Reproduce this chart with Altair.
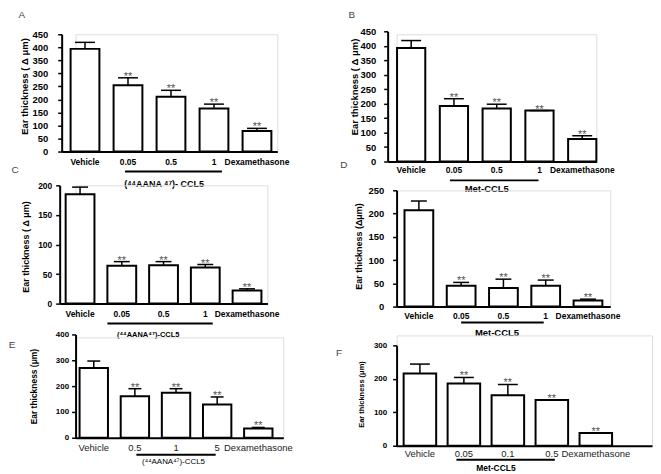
import altair as alt
import pandas as pd

FONT = "Liberation Sans"

# ---------------- data ----------------
cats_A = ["Vehicle", "0.05", "0.5", "1", "Dexamethasone"]
vals_A = [394, 254, 210, 165, 79]
err_A = [419, 283, 235, 182, 89]

cats_B = ["Vehicle", "0.05", "0.5", "1", "Dexamethasone"]
vals_B = [392, 192, 183, 176, 78]
err_B = [418, 217, 198, 176, 89]

cats_C = ["Vehicle", "0.05", "0.5", "1", "Dexamethasone"]
vals_C = [185, 64, 65, 61, 22]
err_C = [197, 71, 71, 66, 25]

cats_D = ["Vehicle", "0.05", "0.5", "1", "Dexamethasone"]
vals_D = [207, 45, 40, 45, 13]
err_D = [227, 52, 59, 57, 16]

cats_E = ["Vehicle", "0.5", "1", "5", "Dexamethasone"]
vals_E = [270, 161, 174, 129, 36]
err_E = [297, 190, 190, 158, 40]

cats_F = ["Vehicle", "0.05", "0.1", "0.5", "Dexamethasone"]
vals_F = [216, 186, 151, 137, 38]
err_F = [244, 204, 183, 137, 38]

stars = ["", "**", "**", "**", "**"]

ytitles = {
    "A": "Ear thickness ( Δ μm)",
    "B": "Ear thickness (  Δ μm)",
    "C": "Ear thickness ( Δ μm)",
    "D": "Ear thickness (Δμm)",
    "E": "Ear thickness (μm)",
    "F": "Ear thickness (μm)",
}
group_labels = {
    "A": "(⁴⁴AANA ⁴⁷)- CCL5",
    "B": "Met-CCL5",
    "C": "(⁴⁴AANA⁴⁷)-CCL5",
    "D": "Met-CCL5",
    "E": "(⁴⁴AANA⁴⁷)-CCL5",
    "F": "Met-CCL5",
}


def panel(letter, cats, vals, errs, ymax, ystep, g1, g2, gm, cfg):
    df = pd.DataFrame({"cat": cats, "val": vals, "err": errs, "star": stars})
    info = pd.DataFrame({"g1": [g1], "g2": [g2], "gm": [gm],
                         "gl": [group_labels[letter]], "t": [letter]})

    xscale = alt.Scale(domain=cats, range=cfg["xrange"], paddingInner=cfg["pi"],
                       paddingOuter=cfg["po"], align=cfg["al"])
    yscale = alt.Scale(domain=[0, ymax], range=cfg["yrange"], nice=False, zero=True)

    xaxis = alt.Axis(title=None, labelAngle=0, ticks=False, tickSize=0,
                     labelPadding=cfg["xlp"], labelFont=FONT,
                     labelFontSize=cfg["xls"], labelFontWeight=cfg["xlw"],
                     labelColor=cfg.get("xlc", "black"), domainColor="black",
                     domainWidth=2, labelOverlap=False, grid=False)
    yaxis = alt.Axis(title=ytitles[letter], values=list(range(0, ymax + 1, ystep)),
                     offset=cfg["yoff"], tickSize=4, tickWidth=1.5, tickColor="black",
                     domainColor="black", domainWidth=2, grid=False,
                     labelOverlap=False, labelFlush=False,
                     labelPadding=cfg["ylp"], labelFont=FONT, labelFontSize=cfg["yls"],
                     labelFontWeight="bold", labelColor="black",
                     titleFont=FONT, titleFontSize=cfg["yts"], titleFontWeight="bold",
                     titleColor="black", titleX=cfg["tx"], titleY=cfg["ty"],
                     titleBaseline="middle")

    X = lambda f: alt.X(f, scale=xscale, axis=xaxis, title=None)
    Y = lambda f: alt.Y(f, scale=yscale, axis=yaxis)

    base = alt.Chart(df)
    bars = base.mark_bar(fill="white", stroke="black", strokeWidth=2).encode(
        x=X("cat:N"), y=Y("val:Q"), y2=alt.datum(0))
    rules = base.mark_rule(color="black", strokeWidth=1.5).encode(
        x=X("cat:N"), y=Y("val:Q"), y2="err:Q")
    caps = base.mark_tick(color="black", thickness=1.5, size=cfg["cap"], opacity=1).encode(
        x=X("cat:N"), y=Y("err:Q"))
    txt = base.mark_text(font=FONT, fontSize=11, fill="#555", baseline="alphabetic",
                         dy=2).encode(
        x=X("cat:N"), y=Y("err:Q"), text="star:N")

    ib = alt.Chart(info)
    under = ib.mark_rule(color="black", strokeWidth=2, xOffset=cfg["uo1"],
                         x2Offset=cfg["uo2"]).encode(
        x=X("g1:N"), x2="g2:N", y=alt.value(cfg["uy"]))
    glab = ib.mark_text(font=FONT, fontSize=cfg["gls"], fontWeight=cfg["glw"],
                        fill="black", baseline="middle", dx=cfg["gdx"]).encode(
        x=X("gm:N"), y=alt.value(cfg["ly"]), text="gl:N")
    let = ib.mark_text(font=FONT, fontSize=10, fill="#444", align="center",
                       baseline="middle").encode(
        x=alt.value(cfg["lx"]), y=alt.value(cfg["lyy"]), text="t:N")

    return alt.layer(bars, rules, caps, txt, under, glab, let).properties(
        width=cfg["w"], height=cfg["h"])


cfgA = dict(w=203, h=118, xrange=[-14, 203], yrange=[118, 0], pi=0.33, po=0.173, al=0.6,
            yoff=14, ylp=10, yls=9.5, yts=9.5, tx=-37, ty=52, xlp=6, xls=8.5, xlw="bold",
            cap=20, uo1=-3, uo2=8, uy=138, ly=151, gdx=-7, gls=9, glw="bold",
            lx=-54, lyy=-19)
cfgB = dict(w=201, h=128, xrange=[-9, 201], yrange=[128, -3], pi=0.34, po=0.11, al=1.0,
            yoff=9, ylp=8, yls=9.5, yts=9.5, tx=-33, ty=52.5, xlp=4, xls=8.5, xlw="bold",
            cap=20, uo1=-4, uo2=-1, uy=147, ly=156, gdx=-10, gls=9.5, glw="bold",
            lx=-45, lyy=-19)
cfgC = dict(w=193, h=119, xrange=[-16, 193], yrange=[119, 0], pi=0.31, po=0.143, al=0.5,
            yoff=16, ylp=4, yls=8.5, yts=9, tx=-34, ty=61.5, xlp=6, xls=8.5, xlw="bold",
            cap=16, uo1=-14.5, uo2=7.5, uy=139, ly=151, gdx=-15.5, gls=7.5, glw="bold",
            lx=-61, lyy=-15)
cfgD = dict(w=215, h=117, xrange=[0, 215], yrange=[117, 0], pi=0.32, po=0.187, al=0.5,
            yoff=0, ylp=9, yls=9.5, yts=9, tx=-38, ty=56, xlp=5, xls=8.5, xlw="bold",
            cap=16, uo1=0, uo2=-2, uy=133, ly=144, gdx=-6.5, gls=9.5, glw="bold",
            lx=-53, lyy=-25)
cfgE = dict(w=209, h=101, xrange=[0, 209], yrange=[101, -3], pi=0.31, po=0.18, al=0.27,
            yoff=0, ylp=3, yls=8, yts=8.5, tx=-42, ty=49, xlp=5, xls=9.5, xlw="normal",
            xlc="#222", cap=13, uo1=1.5, uo2=-1.5, uy=118, ly=125, gdx=-2.5, gls=8,
            glw="normal", lx=-64, lyy=8)
cfgF = dict(w=257, h=111, xrange=[0, 257], yrange=[111, 10], pi=0.26, po=0.534, al=0.15,
            yoff=0, ylp=6, yls=8, yts=7.5, tx=-35, ty=59, xlp=3, xls=9.5, xlw="normal",
            xlc="#222", cap=20, uo1=-7.5, uo2=3, uy=125, ly=133, gdx=-12, gls=8.5,
            glw="bold", lx=-58, lyy=18)

pA = panel("A", cats_A, vals_A, err_A, 450, 50, "0.05", "1", "0.5", cfgA)
pB = panel("B", cats_B, vals_B, err_B, 450, 50, "0.05", "1", "0.5", cfgB)
pC = panel("C", cats_C, vals_C, err_C, 200, 50, "0.05", "1", "0.5", cfgC)
pD = panel("D", cats_D, vals_D, err_D, 250, 50, "0.05", "1", "0.5", cfgD)
pE = panel("E", cats_E, vals_E, err_E, 400, 100, "0.5", "5", "1", cfgE)
pF = panel("F", cats_F, vals_F, err_F, 300, 100, "0.05", "0.5", "0.1", cfgF)

left = alt.vconcat(pA, pC, pE, spacing=34, bounds="flush")
right = alt.vconcat(pB, pD, pF, spacing=29, bounds="flush")

# flush-bounded nested columns take no width, so spacing is the column offset
chart = alt.hconcat(left, right, spacing=323, bounds="flush").properties(
    padding=0, autosize=alt.AutoSizeParams(type="pad")
).configure_view(stroke=None).configure_axis(
    labelOverlap=False
).configure(font=FONT, background="white")

chart.save("out.html", embed_options={"renderer": "svg", "actions": False})
